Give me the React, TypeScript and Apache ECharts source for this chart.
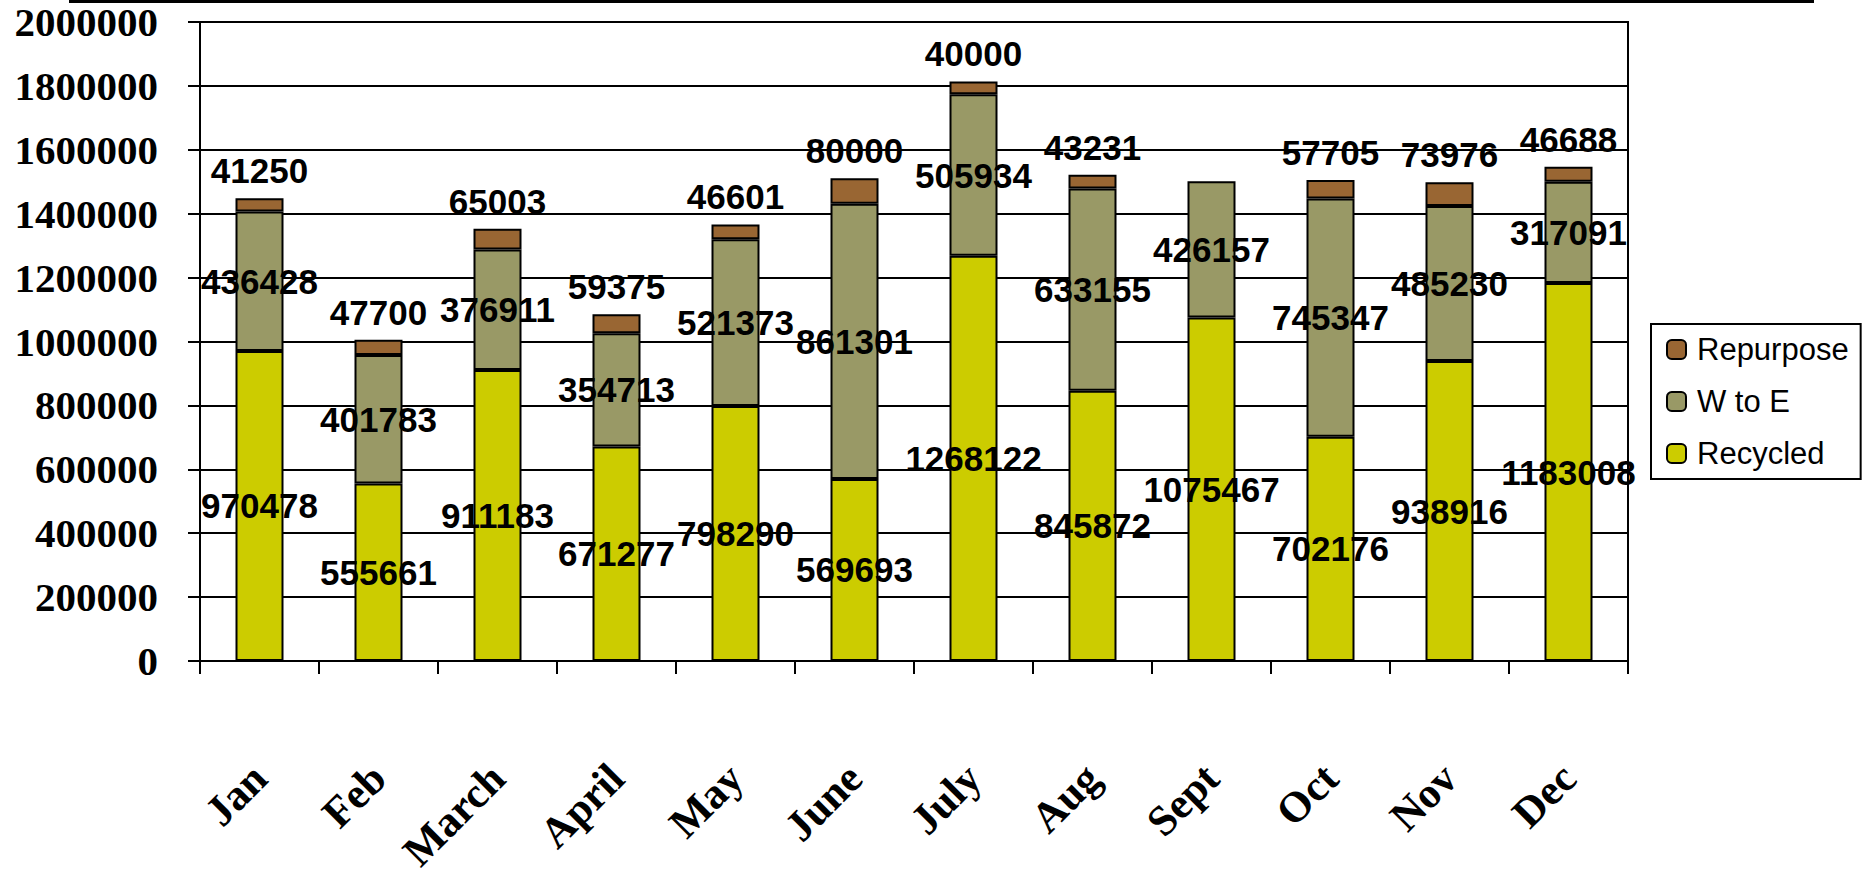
import React, { useEffect, useRef } from "react";
import * as echarts from "echarts";

const months = ["Jan", "Feb", "March", "April", "May", "June", "July", "Aug", "Sept", "Oct", "Nov", "Dec"];
const recycled = [970478, 555661, 911183, 671277, 798290, 569693, 1268122, 845872, 1075467, 702176, 938916, 1183008];
const wToE = [436428, 401783, 376911, 354713, 521373, 861301, 505934, 633155, 426157, 745347, 485230, 317091];
const repurpose = [41250, 47700, 65003, 59375, 46601, 80000, 40000, 43231, null, 57705, 73976, 46688];
const legendOrder = ["Repurpose", "W to E", "Recycled"];
const yMin = 0;
const yMax = 2000000;
const yStep = 200000;

const COLORS = { recycled: "#CCCC00", wtoe: "#999966", repurpose: "#996633" };

export default function App() {
  const ref = useRef<HTMLDivElement>(null);

  useEffect(() => {
    if (!ref.current) return;
    const chart = echarts.init(ref.current, null, { renderer: "svg" });
    const labelBase = {
      show: true,
      color: "#000",
      fontFamily: "Liberation Sans",
      fontWeight: "bold" as const,
      fontSize: 35,
      formatter: (p: any) => (p.value == null ? "" : String(p.value)),
    };
    const itemBase = { borderColor: "#000", borderWidth: 2 };
    chart.setOption({
      animation: false,
      backgroundColor: "#fff",
      grid: { left: 200, right: 237, top: 22, bottom: 218, show: true, borderColor: "#000", borderWidth: 2, outerBoundsMode: "none" },
      legend: {
        data: legendOrder,
        orient: "vertical",
        left: 1651,
        top: 324,
        itemWidth: 19,
        itemHeight: 19,
        itemGap: 21,
        padding: [10, 12, 10, 15],
        backgroundColor: "#fff",
        borderColor: "#000",
        borderWidth: 2,
        borderRadius: 0,
        textStyle: { fontFamily: "Liberation Sans", fontSize: 31, color: "#000", padding: [0, 0, 0, 6] },
      },
      xAxis: {
        type: "category",
        data: months,
        boundaryGap: true,
        axisLine: { show: true, lineStyle: { color: "#000", width: 2 } },
        axisTick: { show: true, length: 13, lineStyle: { color: "#000", width: 2 } },
        axisLabel: {
          rotate: 45,
          margin: 110,
          interval: 0,
          color: "#000",
          fontFamily: "Liberation Serif",
          fontWeight: "bold",
          fontSize: 43,
        },
      },
      yAxis: {
        type: "value",
        min: yMin,
        max: yMax,
        interval: yStep,
        axisLine: { show: true, lineStyle: { color: "#000", width: 2 } },
        axisTick: { show: true, inside: false, length: 12, lineStyle: { color: "#000", width: 2 } },
        splitLine: { show: true, lineStyle: { color: "#000", width: 2 } },
        axisLabel: {
          margin: 42,
          color: "#000",
          fontFamily: "Liberation Serif",
          fontWeight: "bold",
          fontSize: 41,
          formatter: (v: number) => String(v),
        },
      },
      series: [
        {
          name: "Recycled",
          type: "bar",
          stack: "total",
          barWidth: 48,
          data: recycled,
          itemStyle: { ...itemBase, color: COLORS.recycled },
          label: { ...labelBase, position: "inside" },
        },
        {
          name: "W to E",
          type: "bar",
          stack: "total",
          barWidth: 48,
          data: wToE,
          itemStyle: { ...itemBase, color: COLORS.wtoe },
          label: { ...labelBase, position: "inside" },
        },
        {
          name: "Repurpose",
          type: "bar",
          stack: "total",
          barWidth: 48,
          data: repurpose,
          itemStyle: { ...itemBase, color: COLORS.repurpose },
          label: { ...labelBase, position: "top", distance: 10 },
        },
      ],
      graphic: [
        {
          type: "line",
          shape: { x1: 69, y1: 1.5, x2: 1814, y2: 1.5 },
          style: { stroke: "#000", lineWidth: 3 },
        },
      ],
    });
    return () => chart.dispose();
  }, []);

  return (
    <div
      ref={ref}
      style={{ position: "absolute", left: 0, top: 0, width: 1865, height: 879, background: "#fff" }}
    />
  );
}
